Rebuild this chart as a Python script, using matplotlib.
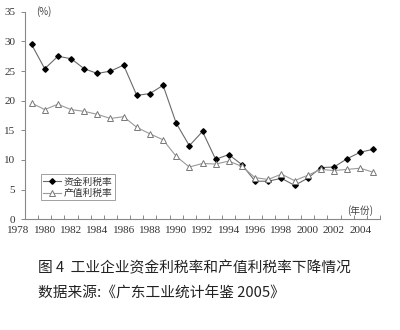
import matplotlib.pyplot as plt
import numpy as np

plt.rcParams['font.family'] = ['Noto Sans CJK SC', 'DejaVu Sans']

years = list(range(1979, 2006))
capital_rate = [29.5, 25.4, 27.5, 27.1, 25.4, 24.6, 25.0, 26.0, 20.9, 21.2,
                22.6, 16.2, 12.4, 14.8, 10.1, 10.9, 9.2, 6.4, 6.4, 6.9,
                5.7, 6.9, 8.7, 8.8, 10.2, 11.3, 11.8]
output_rate = [19.6, 18.5, 19.4, 18.5, 18.2, 17.7, 17.0, 17.3, 15.5, 14.4,
               13.4, 10.6, 8.8, 9.4, 9.3, 9.8, 8.9, 7.0, 6.7, 7.6,
               6.5, 7.4, 8.4, 8.2, 8.4, 8.6, 7.9]
year_labels = list(range(1978, 2006, 2))
y_ticks = [0, 5, 10, 15, 20, 25, 30, 35]

fig = plt.figure(figsize=(4, 3.3), dpi=100)
fig.patch.set_facecolor('white')
ax = fig.add_axes([0.0625, 0.336, 0.8875, 0.628])
ax.set_facecolor('none')

ax.plot(years, capital_rate, color='#6a6a6a', lw=0.8, marker='D',
        markersize=2.8, markerfacecolor='black', markeredgecolor='black',
        label='资金利税率')
ax.plot(years, output_rate, color='#9a9a9a', lw=0.8, marker='^',
        markersize=4.5, markerfacecolor='white', markeredgecolor='#777777',
        markeredgewidth=0.7, label='产值利税率')

ax.set_xlim(1978.5, 2005.5)
ax.set_ylim(0, 35)
for s in ['top', 'right']:
    ax.spines[s].set_visible(False)
for s in ['left', 'bottom']:
    ax.spines[s].set_color('#888888')
    ax.spines[s].set_linewidth(0.8)

ax.set_xticks(np.arange(1978.5, 2006, 1.0))
ax.set_xticklabels([])
ax.tick_params(axis='x', direction='in', length=3, color='#888888', width=0.7)
ax.set_yticks(y_ticks)
ax.set_yticklabels([str(v) for v in y_ticks], fontfamily='Liberation Serif',
                   fontsize=8, color='#333333')
ax.tick_params(axis='y', direction='out', length=3, color='#888888',
               width=0.7, pad=4)

# year labels sit on whole years, left of the category ticks
for yr in year_labels:
    ax.text(yr, -2.0, str(yr), ha='center', va='center', fontsize=8,
            fontfamily='Liberation Serif', color='#333333', clip_on=False)

ax.text(1979.9, 35, '(%)', ha='center', va='center', fontsize=7,
        color='#444444', clip_on=False)
ax.text(2004.0, 1.5, '(年份)', ha='center', va='center', fontsize=7,
        color='#444444', clip_on=False)

leg = ax.legend(loc='lower left', bbox_to_anchor=(0.045, 0.09), fontsize=7,
                frameon=True, fancybox=False, handlelength=1.8,
                borderpad=0.25, labelspacing=0.15, handletextpad=0.3,
                borderaxespad=0)
leg.get_frame().set_edgecolor('#888888')
leg.get_frame().set_linewidth(0.7)
for t in leg.get_texts():
    t.set_color('#333333')

fig.text(0.095, 0.187, '图 4  工业企业资金利税率和产值利税率下降情况',
         fontsize=10.6, color='#222222', va='center', ha='left')
fig.text(0.095, 0.11, '数据来源:《广东工业统计年鉴 2005》',
         fontsize=10.6, color='#222222', va='center', ha='left')

fig.savefig('out.png', dpi=100)
